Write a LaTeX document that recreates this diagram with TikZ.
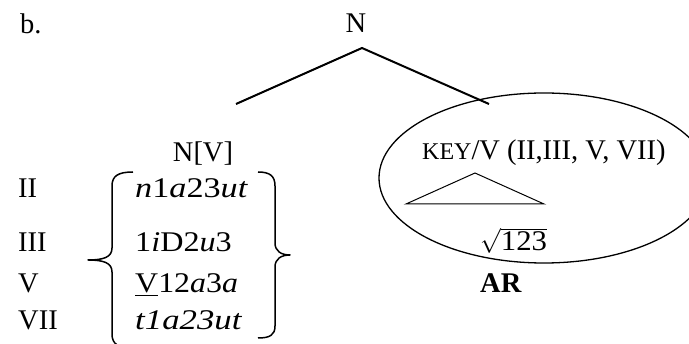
\documentclass[tikz,border=0pt]{standalone}
\usepackage{fontspec}
\setmainfont{Liberation Serif}
\usetikzlibrary{shapes.geometric}
\newcommand{\stretchto}[1]{\addfontfeature{FakeStretch=#1}}
\begin{document}
\begin{tikzpicture}[x=1pt,y=-1pt,
  txt/.style={inner sep=0pt, font=\fontsize{28.5}{34}\selectfont},
  branch/.style={line width=2pt},
  thinline/.style={line width=1pt, line join=miter},
  bracestyle/.style={line width=1.5pt, line join=round}]
\useasboundingbox (0,0) rectangle (689,344);
% labels
\node[txt, anchor=base west] (b) at (20,34) {b.};
\node[txt, anchor=base] (N) at (356,33) {N};
% tree branches
\coordinate (top) at (362,48);
\coordinate (lft) at (236,104);
\coordinate (rgt) at (489,104);
\draw[branch] (lft) -- (top) -- (rgt);
% left daughter
\node[txt, anchor=base] (NV) at (203,162) {N[V]};
\node[txt, anchor=base west] (r2) at (18,198) {II};
\node[txt, anchor=base west] (r3) at (18,252) {III};
\node[txt, anchor=base west] (r5) at (18,293) {V};
\node[txt, anchor=base west] (r7) at (18,330) {VII};
\node[txt, anchor=base west] (f2) at (135,198) {\stretchto{1.2}\textit{n}1\textit{a}23\textit{ut}};
\node[txt, anchor=base west] (f3) at (135,252) {\stretchto{1.13}1\textit{i}D2\textit{u}3};
\node[txt, anchor=base west] (f5) at (135,293) {\stretchto{1.12}\underline{V}12\textit{a}3\textit{a}};
\node[txt, anchor=base west] (f7) at (135,330) {\stretchto{1.22}\textit{t1a23ut}};
% braces
\draw[bracestyle] (133,172) .. controls (118,172) and (112,176) .. (112,186)
  -- (112,248) .. controls (112,257) and (104,260) .. (88,260)
  .. controls (104,260) and (112,263) .. (112,272)
  -- (112,334) .. controls (112,344) and (118,348) .. (133,348);
\draw[bracestyle] (258,172) .. controls (270,172) and (275,176) .. (275,186)
  -- (275,243) .. controls (275,251) and (281,255) .. (290,255)
  .. controls (281,255) and (275,259) .. (275,267)
  -- (275,326) .. controls (275,335) and (270,338) .. (258,338);
% right daughter
\node[ellipse, draw, line width=1.3pt, inner sep=0pt, minimum width=330pt, minimum height=170pt] (circ) at (544,178) {};
\node[txt, anchor=base west] (key) at (422,160) {{\fontsize{24}{24}\selectfont KEY}/V (II,III, V, VII)};
\coordinate (ta) at (475,173);
\coordinate (tl) at (406,204);
\coordinate (tr) at (544,204);
\draw[thinline] (tl) -- (ta) -- (tr) -- cycle;
\node[txt, anchor=base west] (root) at (480,251) {$\sqrt{\hbox{\stretchto{1.08}123}}$};
\node[txt, anchor=base west] (AR) at (480,293) {\bfseries AR};
\end{tikzpicture}
\end{document}
